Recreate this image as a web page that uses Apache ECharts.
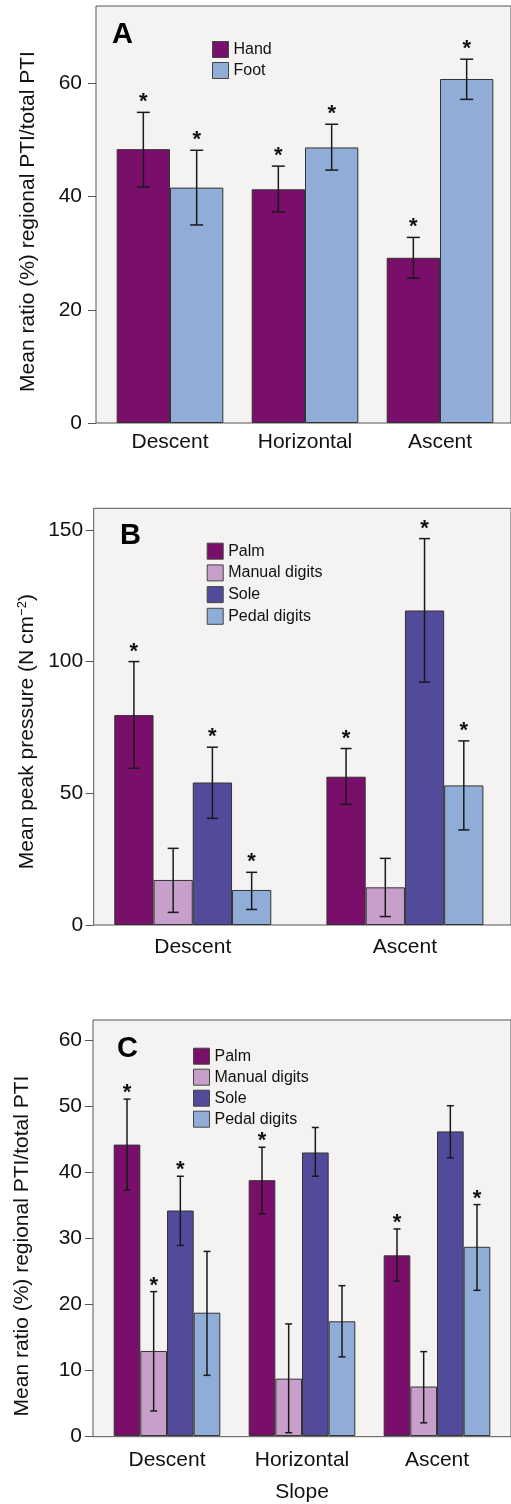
<!DOCTYPE html>
<html>
<head>
<meta charset="utf-8">
<script src="https://cdn.jsdelivr.net/npm/echarts@6/dist/echarts.min.js"></script>
<style>
  html, body { margin: 0; padding: 0; background: #fff; }
  .main { width: 511px; height: 1504px; }
</style>
</head>
<body>
<div class="main"></div>
<script>
// panel A
var slopesA = ['Descent', 'Horizontal', 'Ascent'];
var handMean = [48.4, 41.3, 29.2];
var handLow = [41.7, 37.3, 25.6];
var handHigh = [54.9, 45.4, 32.8];
var handStar = [1, 1, 1];
var footMean = [41.6, 48.7, 60.8];
var footLow = [35.0, 44.7, 57.2];
var footHigh = [48.2, 52.8, 64.3];
var footStar = [1, 1, 1];
var ticksA = [0, 20, 40, 60];

// panel B
var slopesB = ['Descent', 'Ascent'];
var palmB = [79.7, 56.3], palmBLow = [59.5, 45.8], palmBHigh = [100, 67], palmBStar = [1, 1];
var manualB = [17.1, 14.3], manualBLow = [4.8, 3.2], manualBHigh = [29.1, 25.3], manualBStar = [0, 0];
var soleB = [54.1, 119.4], soleBLow = [40.5, 92.2], soleBHigh = [67.5, 146.7], soleBStar = [1, 1];
var pedalB = [13.3, 53.0], pedalBLow = [5.9, 36.1], pedalBHigh = [20.0, 69.9], pedalBStar = [1, 1];
var ticksB = [0, 50, 100, 150];

// panel C
var slopesC = ['Descent', 'Horizontal', 'Ascent'];
var palmC = [44.2, 38.8, 27.4], palmCLow = [37.3, 33.7, 23.5], palmCHigh = [51.1, 43.8, 31.4], palmCStar = [1, 1, 1];
var manualC = [12.9, 8.7, 7.5], manualCLow = [3.8, 0.5, 2.0], manualCHigh = [21.9, 17.0, 12.8], manualCStar = [1, 0, 0];
var soleC = [34.2, 43.0, 46.2], soleCLow = [28.9, 39.4, 42.2], soleCHigh = [39.4, 46.8, 50.1], soleCStar = [1, 0, 0];
var pedalC = [18.7, 17.4, 28.7], pedalCLow = [9.2, 12.0, 22.1], pedalCHigh = [28.0, 22.8, 35.1], pedalCStar = [0, 0, 1];
var ticksC = [0, 10, 20, 30, 40, 50, 60];

var PURPLE = '#7a0e6b', PINK = '#c89fca', NAVY = '#524a9b', BLUE = '#8fadd6';
var FONT = '"Liberation Sans", Arial, sans-serif';

var myChart = echarts.init(document.querySelector('.main'));

// error bars + stars for one bar series, placed inside its category band
function errSeries(axisIdx, low, high, star, k, n, gap, cap, starGap) {
    var data = low.map(function (v, i) { return [i, v, high[i], star[i]]; });
    return {
        type: 'custom',
        xAxisIndex: axisIdx,
        yAxisIndex: axisIdx,
        z: 5,
        silent: true,
        data: data,
        renderItem: function (params, api) {
            var band = api.size([1, 0])[0];
            var bw = band * (1 - gap) / n;
            var lo = api.coord([api.value(0), api.value(1)]);
            var hi = api.coord([api.value(0), api.value(2)]);
            var x = lo[0] + (k - (n - 1) / 2) * bw;
            var st = { stroke: '#1a1a1a', lineWidth: 1.5 };
            var kids = [
                { type: 'line', shape: { x1: x, y1: lo[1], x2: x, y2: hi[1] }, style: st },
                { type: 'line', shape: { x1: x - cap / 2, y1: lo[1], x2: x + cap / 2, y2: lo[1] }, style: st },
                { type: 'line', shape: { x1: x - cap / 2, y1: hi[1], x2: x + cap / 2, y2: hi[1] }, style: st }
            ];
            if (api.value(3)) {
                kids.push({
                    type: 'text',
                    x: x, y: hi[1] - starGap,
                    style: { text: '*', font: 'bold 22px ' + FONT, fill: '#111', align: 'center', verticalAlign: 'middle' }
                });
            }
            return { type: 'group', children: kids };
        }
    };
}

function barSeries(axisIdx, name, color, data, gap) {
    return {
        name: name,
        type: 'bar',
        xAxisIndex: axisIdx,
        yAxisIndex: axisIdx,
        barGap: '0%',
        barCategoryGap: gap,
        itemStyle: { color: color, borderColor: '#333', borderWidth: 1 },
        data: data
    };
}

function catAxis(idx, cats, margin) {
    return {
        type: 'category', gridIndex: idx, data: cats,
        axisLine: { show: false },
        axisTick: { alignWithLabel: true, length: 7, lineStyle: { color: '#444' } },
        axisLabel: { fontSize: 21, color: '#111', margin: margin }
    };
}

function valAxis(idx, max, ticks, offset, margin, name, nameGap, pad) {
    return {
        type: 'value', gridIndex: idx, min: 0, max: max, offset: offset,
        splitLine: { show: false },
        axisLine: { show: false },
        axisTick: { show: true, length: 8, customValues: ticks, lineStyle: { color: '#555' } },
        axisLabel: { fontSize: 21, color: '#111', margin: margin, customValues: ticks },
        name: name, nameLocation: 'middle', nameRotate: 90, nameGap: nameGap,
        nameTextStyle: { fontSize: 21, color: '#111', padding: pad, rich: {
            n: { fontSize: 21, color: '#111' },
            s: { fontSize: 13, color: '#111', verticalAlign: 'top', padding: [0, 0, 8, 0] }
        } }
    };
}

function frame(left, top, height) {
    return { left: left, top: top, height: height, width: 440, show: true,
        backgroundColor: '#f4f3f1', borderColor: '#555', borderWidth: 1 };
}

var legendStyle = { orient: 'vertical', icon: 'rect', itemWidth: 16, itemHeight: 16,
    textStyle: { fontSize: 16, color: '#111' },
    itemStyle: { borderColor: '#444', borderWidth: 1 } };

option = {
    animation: false,
    textStyle: { fontFamily: FONT },
    grid: [
        { left: 102.5, top: 6, width: 405, height: 417 },
        { left: 86.7, top: 508.3, width: 426.7, height: 416.7 },
        { left: 99.5, top: 1020, width: 405, height: 416.7 },
        frame(96, 6, 417),
        frame(93.7, 508.3, 416.7),
        frame(93, 1020, 416.7)
    ],
    xAxis: [
        catAxis(0, slopesA, 9),
        catAxis(1, slopesB, 12),
        Object.assign(catAxis(2, slopesC, 14), {
            name: 'Slope', nameLocation: 'middle', nameGap: 46,
            nameTextStyle: { fontSize: 21, color: '#111' }
        }),
        { type: 'value', gridIndex: 3, show: false },
        { type: 'value', gridIndex: 4, show: false },
        { type: 'value', gridIndex: 5, show: false }
    ],
    yAxis: [
        valAxis(0, 73.7, ticksA, 6.5, 14, 'Mean ratio (%) regional PTI/total PTI', 57, [0, 14, 0, 0]),
        valAxis(1, 158.2, ticksB, -7, 10.5, '{n|Mean peak pressure (N cm}{s|−2}{n|)}', 56, [0, 30, 0, 0]),
        valAxis(2, 63.1, ticksC, 6.5, 11, 'Mean ratio (%) regional PTI/total PTI', 60, [0, 36, 0, 0]),
        { type: 'value', gridIndex: 3, show: false },
        { type: 'value', gridIndex: 4, show: false },
        { type: 'value', gridIndex: 5, show: false }
    ],
    legend: [
        Object.assign({ data: ['Hand', 'Foot'], left: 207, top: 36, itemGap: 4 }, legendStyle),
        Object.assign({ data: ['Palm', 'Manual digits', 'Sole', 'Pedal digits'], left: 201.7, top: 537.7, itemGap: 4.7 }, legendStyle),
        Object.assign({ data: ['Palm', 'Manual digits', 'Sole', 'Pedal digits'], left: 188, top: 1042.7, itemGap: 4 }, legendStyle)
    ],
    graphic: [
        { type: 'text', left: 112, top: 20, style: { text: 'A', font: 'bold 29px ' + FONT, fill: '#000' } },
        { type: 'text', left: 120, top: 521, style: { text: 'B', font: 'bold 29px ' + FONT, fill: '#000' } },
        { type: 'text', left: 117, top: 1034, style: { text: 'C', font: 'bold 29px ' + FONT, fill: '#000' } }
    ],
    series: [
        barSeries(0, 'Hand', PURPLE, handMean, '21%'),
        barSeries(0, 'Foot', BLUE, footMean, '21%'),
        errSeries(0, handLow, handHigh, handStar, 0, 2, 0.21, 13, 10),
        errSeries(0, footLow, footHigh, footStar, 1, 2, 0.21, 13, 10),

        barSeries(1, 'Palm', PURPLE, palmB, '26%'),
        barSeries(1, 'Manual digits', PINK, manualB, '26%'),
        barSeries(1, 'Sole', NAVY, soleB, '26%'),
        barSeries(1, 'Pedal digits', BLUE, pedalB, '26%'),
        errSeries(1, palmBLow, palmBHigh, palmBStar, 0, 4, 0.26, 11, 10),
        errSeries(1, manualBLow, manualBHigh, manualBStar, 1, 4, 0.26, 11, 10),
        errSeries(1, soleBLow, soleBHigh, soleBStar, 2, 4, 0.26, 11, 10),
        errSeries(1, pedalBLow, pedalBHigh, pedalBStar, 3, 4, 0.26, 11, 10),

        barSeries(2, 'Palm', PURPLE, palmC, '21%'),
        barSeries(2, 'Manual digits', PINK, manualC, '21%'),
        barSeries(2, 'Sole', NAVY, soleC, '21%'),
        barSeries(2, 'Pedal digits', BLUE, pedalC, '21%'),
        errSeries(2, palmCLow, palmCHigh, palmCStar, 0, 4, 0.21, 7, 6),
        errSeries(2, manualCLow, manualCHigh, manualCStar, 1, 4, 0.21, 7, 6),
        errSeries(2, soleCLow, soleCHigh, soleCStar, 2, 4, 0.21, 7, 6),
        errSeries(2, pedalCLow, pedalCHigh, pedalCStar, 3, 4, 0.21, 7, 6)
    ]
};

myChart.setOption(option);
</script>
</body>
</html>
